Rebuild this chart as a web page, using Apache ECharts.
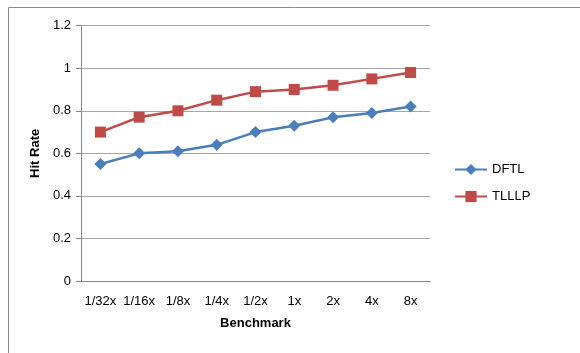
<!DOCTYPE html>
<html><head><meta charset="utf-8">
<script src="https://cdn.jsdelivr.net/npm/echarts@6/dist/echarts.min.js"></script>
<style>html,body{margin:0;padding:0;background:#fff}#c{width:580px;height:353px}</style>
</head><body><div id="c"></div>
<script>
const categories = ['1/32x','1/16x','1/8x','1/4x','1/2x','1x','2x','4x','8x'];
const dftl = [0.55,0.60,0.61,0.64,0.70,0.73,0.77,0.79,0.82];
const tlllp = [0.70,0.77,0.80,0.85,0.89,0.90,0.92,0.95,0.98];
const yTicks = [0,0.2,0.4,0.6,0.8,1,1.2];

const chart = echarts.init(document.getElementById('c'), null, {renderer:'canvas'});
const font = 'Liberation Sans';
chart.setOption({
  animation:false,
  backgroundColor:'#fff',
  graphic:[{type:'rect',shape:{x:8.5,y:7.5,width:600,height:400},style:{fill:'none',stroke:'#8a8a8a',lineWidth:1}}],
  grid:{left:81,right:150,top:25.7,bottom:72,containLabel:false},
  legend:{
    orient:'vertical',left:449,top:158,itemGap:14,itemWidth:32,itemHeight:14,
    textStyle:{fontFamily:font,fontSize:13,color:'#000'},
    data:['DFTL','TLLLP']
  },
  xAxis:{
    type:'category',data:categories,boundaryGap:true,
    name:'Benchmark',nameLocation:'middle',nameGap:36,
    nameTextStyle:{fontFamily:font,fontSize:13,fontWeight:'bold',color:'#000'},
    axisLine:{lineStyle:{color:'#868686'}},
    axisTick:{show:false},
    axisLabel:{fontFamily:font,fontSize:13,color:'#000',margin:14,interval:0}
  },
  yAxis:{
    type:'value',min:0,max:1.2,interval:0.2,
    name:'Hit Rate',nameLocation:'middle',nameGap:38,nameRotate:90,
    nameTextStyle:{fontFamily:font,fontSize:13,fontWeight:'bold',color:'#000'},
    axisLine:{show:true,lineStyle:{color:'#868686'}},
    axisTick:{show:true,length:5,lineStyle:{color:'#868686'}},
    splitLine:{lineStyle:{color:'#a6a6a6'}},
    axisLabel:{fontFamily:font,fontSize:13,color:'#000',margin:10,
      formatter:v=>{const t=yTicks.find(x=>Math.abs(x-v)<1e-9);return String(t!==undefined?t:v);}}
  },
  series:[
    {name:'DFTL',type:'line',data:dftl,symbol:'diamond',symbolSize:12,
     lineStyle:{color:'#4a7ebb',width:2.5},itemStyle:{color:'#4a7ebb'}},
    {name:'TLLLP',type:'line',data:tlllp,symbol:'rect',symbolSize:11,
     lineStyle:{color:'#be4b48',width:2.5},itemStyle:{color:'#be4b48'}}
  ]
});
</script></body></html>
